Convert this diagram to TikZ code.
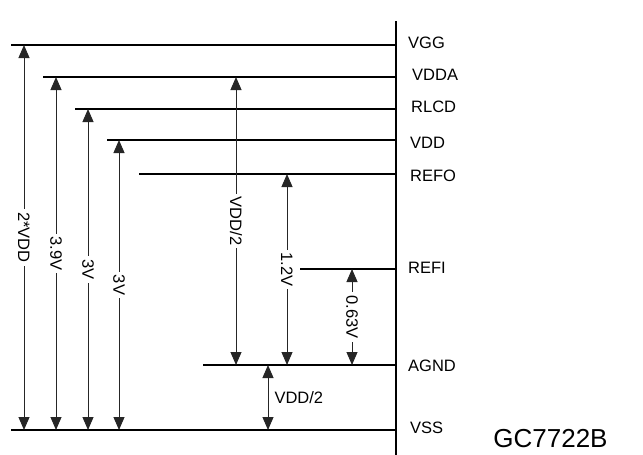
\documentclass[tikz,border=0pt]{standalone}
\usepackage{fontspec}
\setmainfont{Liberation Sans}
\usetikzlibrary{arrows.meta,positioning}
\tikzset{
    level/.style={line width=1.2pt, draw=black},
    rail/.style={line width=2.6pt, draw=black},
    dim/.style={line width=1pt, draw=black!85, {Triangle[length=13pt,width=11pt]}-{Triangle[length=13pt,width=11pt]}},
    vlabel/.style={fill=white, rotate=-90, inner sep=3pt, font=\fontsize{16.5}{19}\selectfont},
    hlabel/.style={inner sep=6pt, font=\fontsize{16.5}{19}\selectfont},
    pin/.style={inner sep=0pt, font=\fontsize{16.5}{19}\selectfont},
    chip/.style={inner sep=0pt, font=\fontsize{26}{30}\selectfont}
}
\begin{document}
\begin{tikzpicture}[x=1pt, y=-1pt, node distance=12pt]
    \useasboundingbox (0,0) rectangle (643,455);
    % the rail and the voltage levels
    \coordinate (top) at (396,21);
    \coordinate (bot) at (396,455);
    \foreach \name/\left/\y in {vgg/11/45, vdda/43/77, rlcd/75/109, vdd/107/140, refo/139/174, refi/300/269, agnd/203/365, vss/11/430}{
        \coordinate (\name-l) at (\left,\y);
        \coordinate (\name) at (396,\y);
        \draw [level] (\name-l) -- (\name);
    }
    \draw [rail] (top) -- (bot);

    \node (t-vgg) [pin, right=of vgg, yshift=2pt] {VGG};
    \node (t-vdda) [pin, right=16pt of vdda, yshift=2pt] {VDDA};
    \node (t-rlcd) [pin, right=15pt of rlcd, yshift=2pt] {RLCD};
    \node (t-vdd) [pin, right=14pt of vdd, yshift=-3pt] {VDD};
    \node (t-refo) [pin, right=14pt of refo, yshift=-1.5pt] {REFO};
    \node (t-refi) [pin, right=of refi, yshift=1.5pt] {REFI};
    \node (t-agnd) [pin, right=of agnd, yshift=-1pt] {AGND};
    \node (t-vss) [pin, right=14pt of vss, yshift=2.5pt] {VSS};
    \node (gc) [chip] at (550.5,439) {GC7722B};

    % columns of the dimension arrows
    \coordinate (c1) at (24,0);
    \coordinate (c2) at (56,0);
    \coordinate (c3) at (88,0);
    \coordinate (c4) at (119,0);
    \coordinate (c5) at (236,0);
    \coordinate (c6) at (268,0);
    \coordinate (c7) at (287,0);
    \coordinate (c8) at (352,0);

    \draw [dim] (c1 |- vgg) -- node [vlabel] {2*VDD} (c1 |- vss);
    \draw [dim] (c2 |- vdda) -- node [vlabel] {3.9V} (c2 |- vss);
    \draw [dim] (c3 |- rlcd) -- node [vlabel] {3V} (c3 |- vss);
    \draw [dim] (c4 |- vdd) -- node [vlabel] {3V} (c4 |- vss);
    \draw [dim] (c5 |- vdda) -- node [vlabel] {VDD/2} (c5 |- agnd);
    \draw [dim] (c7 |- refo) -- node [vlabel] {1.2V} (c7 |- agnd);
    \draw [dim] (c8 |- refi) -- node [vlabel] {0.63V} (c8 |- agnd);
    \draw [dim] (c6 |- agnd) -- node [hlabel, right] {VDD/2} (c6 |- vss);
\end{tikzpicture}
\end{document}
